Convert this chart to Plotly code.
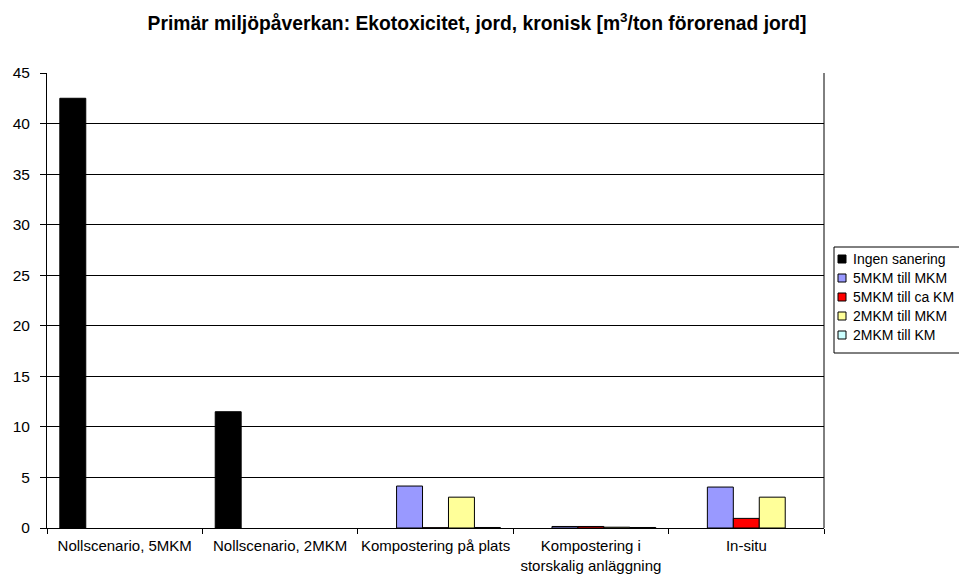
import plotly.graph_objects as go

categories = [
    "Nollscenario, 5MKM",
    "Nollscenario, 2MKM",
    "Kompostering på plats",
    "Kompostering i<br>storskalig anläggning",
    "In-situ",
]

series_names = [
    "Ingen sanering",
    "5MKM till MKM",
    "5MKM till ca KM",
    "2MKM till MKM",
    "2MKM till KM",
]

# None = no bar for that scenario
ingen_sanering = [42.5, 11.5, None, None, None]
mkm5_till_mkm = [None, None, 4.15, 0.15, 4.05]
mkm5_till_ca_km = [None, None, 0.03, 0.15, 0.95]
mkm2_till_mkm = [None, None, 3.05, 0.08, 3.05]
mkm2_till_km = [None, None, 0.05, 0.05, None]

series_values = [ingen_sanering, mkm5_till_mkm, mkm5_till_ca_km, mkm2_till_mkm, mkm2_till_km]
colors = ["#000000", "#9999FF", "#FF0000", "#FFFF99", "#CCFFFF"]

y_ticks = [0, 5, 10, 15, 20, 25, 30, 35, 40, 45]

W, H = 959, 574
L, R, T, B = 47, 135, 73, 46
PW, PH = W - L - R, H - T - B
FONT = "Liberation Sans, Arial, sans-serif"


def px_to_paper(x, y):
    return (x - L) / PW, (H - B - y) / PH


fig = go.Figure()
for name, vals, col in zip(series_names, series_values, colors):
    fig.add_trace(go.Bar(
        x=categories, y=vals, name=name,
        marker=dict(color=col, line=dict(color="#000000", width=1)),
        showlegend=False,
    ))

fig.update_layout(
    width=W, height=H,
    margin=dict(l=L, r=R, t=T, b=B, autoexpand=False),
    paper_bgcolor="white", plot_bgcolor="white",
    barmode="group", bargap=0.165, bargroupgap=0,
    font=dict(family=FONT, size=15, color="#000000"),
    title=dict(
        text="<b>Primär miljöpåverkan: Ekotoxicitet, jord, kronisk [m<sup>3</sup>/ton förorenad jord]</b>",
        x=477 / W, xref="container", xanchor="center",
        y=1 - 23 / H, yref="container", yanchor="middle",
        font=dict(size=19.3, family=FONT),
    ),
    showlegend=False,
    xaxis=dict(
        type="category", tickson="boundaries",
        ticks="outside", ticklen=5, tickcolor="#000000",
        ticklabelstandoff=4,
        tickangle=0, automargin=False,
        showline=True, linecolor="#000000", linewidth=1,
        showgrid=False,
        tickfont=dict(family=FONT, size=15),
    ),
    yaxis=dict(
        range=[0, 45], tickvals=y_ticks,
        ticks="outside", ticklen=6, tickcolor="#000000",
        ticklabelstandoff=7, automargin=False,
        showline=True, linecolor="#000000", linewidth=1,
        showgrid=True, gridcolor="#000000", gridwidth=1,
        zeroline=False,
        tickfont=dict(family=FONT, size=15.5),
    ),
)

# right-hand frame edge of the plotting area
fig.add_shape(type="line", xref="paper", yref="paper", x0=1, x1=1, y0=0, y1=1,
              line=dict(color="#000000", width=1))

# legend box with small colour keys
bx0, by0 = px_to_paper(834, 353)
bx1, by1 = px_to_paper(962, 247)
fig.add_shape(type="rect", xref="paper", yref="paper", x0=bx0, x1=bx1, y0=by0, y1=by1,
              line=dict(color="#000000", width=1), fillcolor="white", layer="above")
row_y = [259, 278, 297, 316, 335]
for name, col, ry in zip(series_names, colors, row_y):
    sx0, sy0 = px_to_paper(838, ry + 4)
    sx1, sy1 = px_to_paper(846, ry - 4)
    fig.add_shape(type="rect", xref="paper", yref="paper", x0=sx0, x1=sx1, y0=sy0, y1=sy1,
                  line=dict(color="#000000", width=1), fillcolor=col, layer="above")
    tx, ty = px_to_paper(851, ry)
    fig.add_annotation(xref="paper", yref="paper", x=tx, y=ty, text=name,
                       showarrow=False, xanchor="left", yanchor="middle",
                       font=dict(family=FONT, size=14, color="#000000"))

fig.write_html("out.html")
